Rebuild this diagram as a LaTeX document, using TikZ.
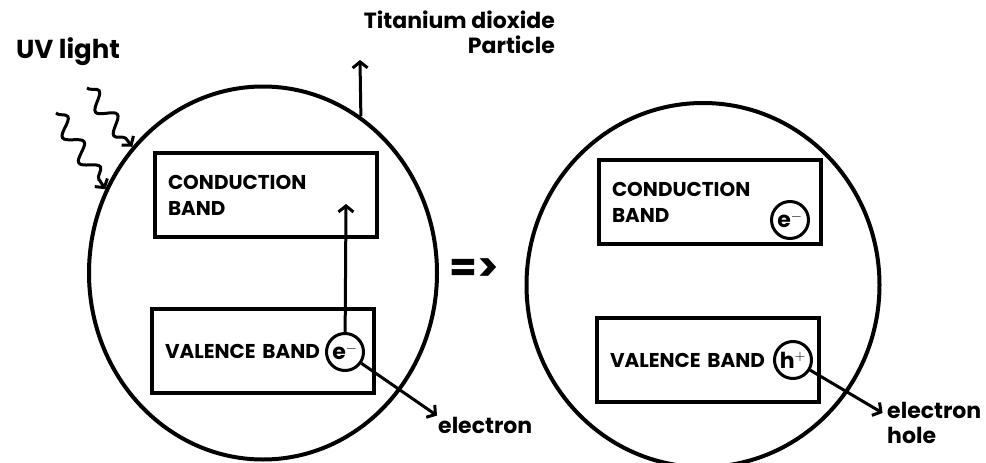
\documentclass[tikz,border=0pt]{standalone}
\usepackage{fontspec}
\setmainfont{Poppins}
\usetikzlibrary{arrows.meta,positioning,calc,shapes.geometric,decorations.pathmorphing}

\begin{document}
\begin{tikzpicture}[
    x=1pt, y=-1pt,
    particle/.style={draw, ellipse, line width=4pt, inner sep=0pt},
    band/.style={draw, line width=3.4pt, minimum width=222pt, minimum height=84pt, inner xsep=13pt, text width=196pt, align=left, font=\bfseries\fontsize{20}{26}\selectfont},
    carrier/.style={draw, circle, line width=3pt, minimum size=37pt, inner sep=0pt, font=\bfseries\fontsize{22}{22}\selectfont},
    flow/.style={-{Straight Barb[length=6pt, width=15pt]}, line width=3pt},
    uv/.style={flow, decorate, decoration={snake, amplitude=8pt, segment length=30pt, post length=6pt}},
    lab/.style={font=\bfseries\fontsize{22}{25}\selectfont, align=left, inner sep=1pt}
]
\useasboundingbox (0,0) rectangle (986,463);
% the two particles
\node[particle, minimum width=348pt, minimum height=373pt] (partA) at (263,273) {};
\node[particle, minimum width=353pt, minimum height=364pt] (partB) at (703,285) {};
% bands
\node[band] (cbA) at (266,195) {CONDUCTION\\BAND};
\node[band] (vbA) at (263,351) {VALENCE BAND};
\node[band] (cbB) at (710,202) {CONDUCTION\\BAND};
\node[band] (vbB) at (708,360) {VALENCE BAND};
% carriers
\node[carrier] (eA) at (345,352) {e$^-$};
\node[carrier] (eB) at (790,220) {e$^-$};
\node[carrier] (hB) at (793,360) {h$^+$};
% labels
\node[lab, font=\bfseries\fontsize{26}{28}\selectfont] (uvlab) at (68,52) {UV light};
\node[lab, align=right, anchor=north east] (tiolab) at (556,10) {Titanium dioxide\\Particle};
\node[lab, anchor=west] (elecA) at (437,425) {electron};
\node[lab, anchor=north west] (holeB) at (886,401) {electron\\hole};
\node[font=\bfseries\fontsize{40}{40}\selectfont] (yields) at (474,270) {=>};
\coordinate (uv1) at (87,88);
\coordinate (uv2) at (56,113);
\coordinate (tiotip) at (360,60);
\coordinate (excite) at (346,204);
% arrows
\draw[uv] (uv1) -- (partA.136);
\draw[uv] (uv2) -- (partA.152);
\draw[flow] (partA.58) -- (tiotip);
\draw[flow] (eA) -- (excite);
\draw[flow] (eA) -- (elecA.north west);
\draw[flow, shorten >=4pt] (hB) -- ([yshift=-14pt]holeB.north west);
\end{tikzpicture}
\end{document}
